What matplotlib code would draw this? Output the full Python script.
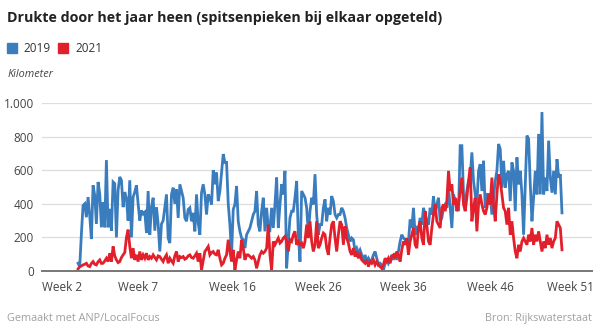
import numpy as np
import matplotlib.pyplot as plt

# one value every ~1.7 px, weeks 2..51
km_2019 = [
    46, 25, 220, 390, 400, 320, 440, 330, 190, 510, 450, 280, 530, 460, 260, 410,
    260, 660, 260, 370, 240, 530, 520, 200, 480, 560, 540, 380, 470, 430, 300,
    540, 200, 440, 470, 510, 400, 300, 360, 340, 350, 226, 476, 216, 380, 436, 240,
    380, 280, 116, 280, 300, 376, 456, 196, 166, 456, 496, 400, 486, 316, 516, 476,
    436, 316, 296, 366, 376, 296, 346, 236, 456, 286, 216, 466, 516, 456, 336, 456,
    436, 396, 600, 516, 586, 416,
    476, 586, 696, 646, 646, 400, 276, 96, 366, 396, 506, 296, 236, 196, 186, 136,
    216, 236, 256, 296, 336, 356, 476, 276, 236, 356, 436, 236, 376, 256, 246, 376,
    256, 396, 556, 256, 396, 516, 456, 596, 16, 176, 316, 356, 356, 436, 536, 216,
    56, 476, 456, 436, 376, 216,
    356, 436, 396, 576, 336, 216, 276, 276, 376, 426, 296, 376, 336, 446, 416, 336,
    316, 336, 336, 376, 356, 316, 256, 216, 176, 196, 186, 116, 136, 106, 126, 96,
    56, 96, 56, 76, 56, 66, 96, 116, 76, 36, 46, 36, 5, 46, 76, 46, 66, 96, 66, 106,
    66, 116,
    176, 216, 196, 186, 176, 176, 306, 256, 376, 216, 256, 246, 316, 276, 376, 336,
    296, 276, 376, 336, 446, 336, 396, 436, 296, 316, 376, 396, 376, 496, 376, 256,
    456, 416, 416, 356, 746, 746, 456, 396, 476, 536, 556, 706, 536, 456, 396, 596,
    636, 476, 656, 376, 456, 456,
    456, 336, 436, 536, 596, 756, 726, 496, 656, 496, 576, 596, 416, 646, 596, 356,
    676, 516, 596, 456, 216, 516, 806, 786, 516, 296, 436, 596, 456, 816, 456, 946,
    456, 556, 476, 776, 556, 466, 596, 456, 666, 556, 576, 346,
]

km_2021 = [
    12, 25, 30, 36, 40, 46, 30, 26, 45, 56, 40, 36, 55, 66, 45, 46, 60, 76, 56, 106,
    56, 146, 90, 66, 50, 56, 80, 96, 110, 200, 246,
    146, 76, 136, 66, 96, 56, 116, 66, 96, 76, 106, 66, 86, 76, 96, 80, 66, 90, 86,
    70, 56, 80, 96, 46, 76, 60, 46, 90, 116, 56, 86, 80, 86, 70, 76, 90, 96, 80, 76,
    90, 106, 56, 106, 6, 60, 116, 130, 146, 96, 110, 116, 100, 96, 126,
    76, 36, 46, 76, 96, 186, 116, 56, 126, 6, 66, 116, 76, 186, 136, 66, 96, 96, 86,
    76, 86, 66, 16, 56, 96, 116, 106, 116, 136, 276, 96, 6, 176, 156, 176, 196, 166,
    176, 196, 206, 176, 116, 186, 176, 216, 236, 156, 176, 156, 166, 136, 176, 276,
    196,
    296, 176, 116, 156, 296, 136, 156, 196, 226, 216, 136, 96, 196, 276, 296, 196,
    116, 216, 296, 276, 156, 266, 196, 166, 116, 96, 136, 86, 116, 76, 96, 66, 56,
    46, 66, 26, 56, 46, 66, 36, 56, 36, 26, 16, 36, 76, 56, 76, 46, 86, 96, 76, 116,
    96,
    56, 126, 176, 156, 196, 96, 176, 216, 256, 156, 136, 256, 296, 196, 156, 356,
    276, 176, 156, 256, 336, 396, 296, 276, 256, 376, 396, 356, 416, 596, 476, 516,
    396, 436, 356, 396, 476, 556, 396, 356, 436, 536, 616, 296, 376, 436, 236, 396,
    456, 396, 356, 336, 376, 456,
    396, 556, 396, 296, 456, 576, 536, 456, 376, 356, 276, 376, 216, 296, 196, 116,
    76, 156, 116, 176, 196, 176, 156, 216, 176, 256, 156, 216, 176, 236, 176, 116,
    176, 136, 216, 156, 196, 136, 176, 196, 296, 276, 256, 126,
]

week_labels = ['Week 2', 'Week 7', 'Week 16', 'Week 26', 'Week 36', 'Week 46', 'Week 51']
week_pos = [-9.6, 36, 92.3, 143.8, 194.7, 247.4, 295.4]
y_ticks = [0, 200, 400, 600, 800, 1000]
y_labels = ['0', '200', '400', '600', '800', '1.000']

blue = '#3a7dbf'
red = '#e2202c'

plt.rcParams['font.family'] = ['Open Sans', 'DejaVu Sans']

fig = plt.figure(figsize=(6, 3.3), dpi=100)
ax = fig.add_axes([0.07, 0.1788, 0.9167, 0.5091])

x = np.arange(len(km_2019))
ax.plot(x, km_2019, color=blue, lw=2.0, solid_joinstyle='miter', clip_on=False, zorder=3)
ax.plot(np.arange(len(km_2021)), km_2021, color=red, lw=2.0, solid_joinstyle='miter',
        clip_on=False, zorder=4)

ax.set_xlim(-21.6, 308)
ax.set_ylim(0, 1000)
ax.set_yticks(y_ticks)
ax.set_yticklabels(y_labels)
ax.set_xticks(week_pos)
ax.set_xticklabels(week_labels)
ax.tick_params(axis='both', length=0, labelsize=8.5, colors='#444444')
ax.tick_params(axis='x', pad=7)
ax.tick_params(axis='y', pad=6)
for lbl in ax.get_yticklabels():
    lbl.set_horizontalalignment('right')

ax.grid(axis='y', color='#dddddd', lw=0.9, zorder=0)
for s in ['top', 'right', 'left']:
    ax.spines[s].set_visible(False)
ax.spines['bottom'].set_color('#777777')
ax.spines['bottom'].set_linewidth(1.4)
ax.spines['bottom'].set_zorder(5)

fig.text(0.012, 0.945, 'Drukte door het jaar heen (spitsenpieken bij elkaar opgeteld)',
         fontsize=10.3, fontweight='bold', color='#222222', va='center')

# legend squares
fig.patches.append(plt.Rectangle((0.012, 0.838), 0.017, 0.031, transform=fig.transFigure,
                                 color=blue, figure=fig))
fig.text(0.039, 0.853, '2019', fontsize=8.5, color='#333333', va='center')
fig.patches.append(plt.Rectangle((0.097, 0.838), 0.017, 0.031, transform=fig.transFigure,
                                 color=red, figure=fig))
fig.text(0.125, 0.853, '2021', fontsize=8.5, color='#333333', va='center')

fig.text(0.012, 0.775, 'Kilometer', fontsize=7.8, style='italic', color='#444444', va='center')

fig.text(0.012, 0.036, 'Gemaakt met ANP/LocalFocus', fontsize=7.8, color='#a0a0a0', va='center')
fig.text(0.987, 0.036, 'Bron: Rijkswaterstaat', fontsize=7.8, color='#a0a0a0',
         va='center', ha='right')

fig.savefig('out.png', dpi=100)
